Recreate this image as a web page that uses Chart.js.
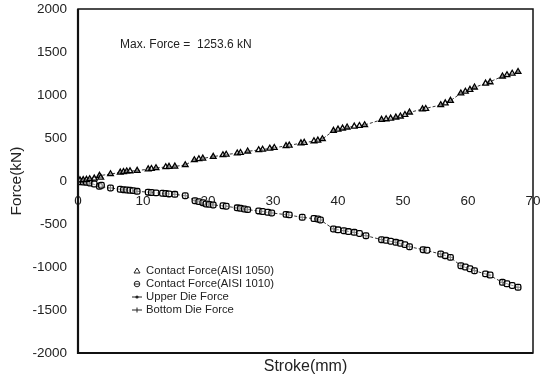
<!DOCTYPE html>
<html><head><meta charset="utf-8">
<script src="https://cdn.jsdelivr.net/npm/chart.js@4/dist/chart.umd.min.js"></script>
<style>html,body{margin:0;padding:0;background:#fff}#wrap{width:541px;height:379px}</style>
</head><body><div id="wrap"><canvas id="c" width="541" height="379"></canvas></div>
<script>
const xTicks = [0,10,20,30,40,50,60,70];
const yTicks = [-2000,-1500,-1000,-500,0,500,1000,1500,2000];
const seriesNames = ['Contact Force(AISI 1050)','Contact Force(AISI 1010)','Upper Die Force','Bottom Die Force'];
const annotationText = 'Max. Force =  1253.6 kN';

const contactX1050 = [0.3,0.8,1.3,1.8,2.5,3.3,3.5,5,6.5,7,7.5,8,9.1,10.8,11.3,12,13.5,14,14.9,16.5,17.9,18.6,19.2,20.8,22.3,22.8,24.5,25,26.1,27.8,28.4,29.5,30.2,32,32.5,34.3,34.8,36.3,36.9,37.6,39.3,40,40.7,41.4,42.5,43.3,44.1,46.7,47.4,48.1,48.9,49.6,50.3,51,53,53.5,55.8,56.5,57.3,58.9,59.6,60.3,61,62.7,63.4,65.3,66,66.8,67.7];
const contactY1050 = [10,12,15,23,30,62,40,81,100,105,113,115,120,138,142,151,162,166,170,186,244,255,263,283,302,308,322,328,345,360,366,378,386,408,414,440,446,464,472,488,585,600,612,624,635,642,651,713,720,728,740,752,770,798,835,840,884,905,934,1020,1040,1062,1089,1135,1150,1217,1232,1250,1270];

const contactX1010 = [0.3,0.8,1.3,1.8,2.5,3.3,3.6,5,6.5,7,7.5,8,8.5,9.1,10.8,11.3,12,13,13.5,14,14.9,16.5,18,18.6,19.2,19.7,20.2,20.8,22.3,22.8,24.5,25,25.6,26.1,27.8,28.4,29.2,29.8,32,32.5,34.5,36.3,36.9,37.3,39.3,40,40.9,41.6,42.5,43.3,44.3,46.7,47.4,48.1,48.9,49.6,50.3,51,53.1,53.7,55.8,56.5,57.3,58.9,59.6,60.3,61,62.7,63.4,65.3,66,66.8,67.7];
const contactY1010 = [-8,-12,-15,-23,-35,-62,-50,-81,-96,-101,-104,-108,-112,-120,-130,-134,-138,-143,-146,-150,-155,-171,-229,-240,-252,-267,-272,-279,-288,-293,-312,-318,-326,-333,-348,-355,-364,-372,-388,-394,-422,-436,-442,-453,-558,-568,-578,-588,-597,-610,-636,-682,-690,-700,-713,-725,-740,-764,-799,-805,-849,-868,-888,-985,-1000,-1020,-1043,-1080,-1093,-1178,-1195,-1215,-1236];

const strokeUpper = [0,0.5,1,1.8,3.3,5,6.5,7.5,9.1,11,12,13.9,14.9,16.5,17.9,19.2,20.8,22.6,24.8,26.1,28.2,30,32.2,34.5,36.7,37.6,39.3,41.4,44.1,46.7,48.9,51,53.1,55.8,57.3,58.9,61,63.2,65.3,67.7];
const upperDie = [0,5,10,23,62,81,100,113,120,140,151,166,170,186,244,263,283,306,326,345,364,384,411,442,469,488,585,624,651,713,740,798,837,884,934,1020,1089,1148,1217,1270];

const strokeLower = [0,0.5,1,1.8,3.3,5,7,9.1,11.2,13.4,14.9,16.5,18,19.7,20.8,22.6,24.5,26.1,28.2,29.8,32,34.5,36.7,37.3,39.3,40.9,42.5,44.3,46.7,48.9,51,53.1,55.8,57.3,58.9,61,63.2,65.3,67.7];
const bottomDie = [0,-5,-10,-23,-62,-81,-101,-120,-132,-147,-155,-171,-229,-267,-279,-291,-314,-333,-353,-372,-391,-422,-442,-453,-558,-578,-597,-636,-682,-713,-764,-799,-849,-888,-985,-1043,-1093,-1178,-1236];

const zip = (xs, ys) => xs.map((x, i) => ({x: x, y: ys[i]}));
const FONT = "'Liberation Sans', Arial, sans-serif";

const framePlugin = {
  id: 'frame',
  afterDraw(chart) {
    const {ctx, chartArea: a} = chart;
    ctx.save();
    ctx.strokeStyle = '#111';
    ctx.lineWidth = 1.5;
    ctx.strokeRect(a.left, a.top, a.right - a.left, a.bottom - a.top);
    ctx.lineWidth = 2.2;
    ctx.beginPath();
    ctx.moveTo(a.left, a.top); ctx.lineTo(a.left, a.bottom); ctx.lineTo(a.right, a.bottom);
    ctx.stroke();
    // annotation
    ctx.fillStyle = '#222';
    ctx.font = '12px ' + FONT;
    ctx.textBaseline = 'middle';
    ctx.textAlign = 'left';
    ctx.fillText(annotationText, a.left + 42, a.top + 36);
    // x title
    ctx.font = '16px ' + FONT;
    ctx.textAlign = 'center';
    ctx.fillText('Stroke(mm)', (a.left + a.right) / 2, a.bottom + 14);
    // legend
    ctx.font = '11.3px ' + FONT;
    ctx.textAlign = 'left';
    const lx = a.left + 59, tx = a.left + 68;
    const rows = [a.top + 262, a.top + 275, a.top + 288, a.top + 301];
    ctx.lineWidth = 1;
    ctx.strokeStyle = '#222';
    seriesNames.forEach((name, i) => {
      const y = rows[i];
      ctx.beginPath();
      if (i === 0) {
        ctx.moveTo(lx, y - 3); ctx.lineTo(lx + 3, y + 2); ctx.lineTo(lx - 3, y + 2); ctx.closePath(); ctx.stroke();
      } else if (i === 1) {
        ctx.arc(lx, y, 2.8, 0, Math.PI * 2); ctx.stroke();
        ctx.beginPath(); ctx.moveTo(lx - 2.8, y); ctx.lineTo(lx + 2.8, y); ctx.stroke();
      } else if (i === 2) {
        ctx.moveTo(lx - 5, y); ctx.lineTo(lx + 5, y); ctx.stroke();
        ctx.beginPath(); ctx.arc(lx, y, 1.6, 0, Math.PI * 2); ctx.fillStyle = '#222'; ctx.fill();
      } else {
        ctx.moveTo(lx - 5, y); ctx.lineTo(lx + 5, y); ctx.moveTo(lx, y - 2.5); ctx.lineTo(lx, y + 2.5); ctx.stroke();
      }
      ctx.fillStyle = '#222';
      ctx.fillText(name, tx, y);
    });
    ctx.restore();
  }
};

new Chart(document.getElementById('c'), {
  type: 'scatter',
  data: {
    datasets: [
      {label: seriesNames[0], data: zip(contactX1050, contactY1050), showLine: false,
       pointStyle: 'triangle', pointRadius: 3.3, pointBorderWidth: 1.3, borderColor: '#000', backgroundColor: 'rgba(255,255,255,0.5)'},
      {label: seriesNames[1], data: zip(contactX1010, contactY1010), showLine: false,
       pointStyle: 'rectRounded', pointRadius: 3.3, pointBorderWidth: 1.3, borderColor: '#000', backgroundColor: 'rgba(255,255,255,0.5)'},
      {label: seriesNames[2], data: zip(strokeUpper, upperDie), showLine: true,
       borderColor: '#333', borderWidth: 1, borderDash: [3, 2], pointStyle: 'circle', pointRadius: 1.5,
       pointBorderWidth: 0, pointBackgroundColor: '#111', tension: 0},
      {label: seriesNames[3], data: zip(strokeLower, bottomDie), showLine: true,
       borderColor: '#333', borderWidth: 1, borderDash: [3, 2], pointStyle: 'cross', pointRadius: 2.5,
       pointBorderWidth: 1, pointBorderColor: '#111', tension: 0}
    ]
  },
  plugins: [framePlugin],
  options: {
    responsive: false,
    animation: false,
    events: [],
    layout: {padding: {left: 0, right: 8, top: 0, bottom: 26}},
    plugins: {legend: {display: false}, tooltip: {enabled: false}},
    scales: {
      x: {
        type: 'linear', min: 0, max: 70, position: {y: 0},
        afterBuildTicks: s => { s.ticks = xTicks.map(v => ({value: v})); },
        afterFit: s => { s.paddingLeft = 0; s.paddingRight = 0; },
        grid: {display: false, drawTicks: false}, border: {display: false},
        ticks: {padding: 12, color: '#222', font: {size: 13.5, family: FONT}, maxRotation: 0,
                callback: v => String(v)}
      },
      y: {
        type: 'linear', min: -2000, max: 2000, position: 'left',
        afterBuildTicks: s => { s.ticks = yTicks.map(v => ({value: v})); },
        afterFit: s => { s.width = 78; s.paddingTop = 9; s.paddingBottom = 0; },
        grid: {display: false, drawTicks: false}, border: {display: false},
        ticks: {padding: 11, color: '#222', font: {size: 13.5, family: FONT}, callback: v => String(v)},
        title: {display: true, text: 'Force(kN)', color: '#222', font: {size: 15.5, family: FONT}, padding: {top: 7, bottom: 0}}
      }
    }
  }
});
</script></body></html>
